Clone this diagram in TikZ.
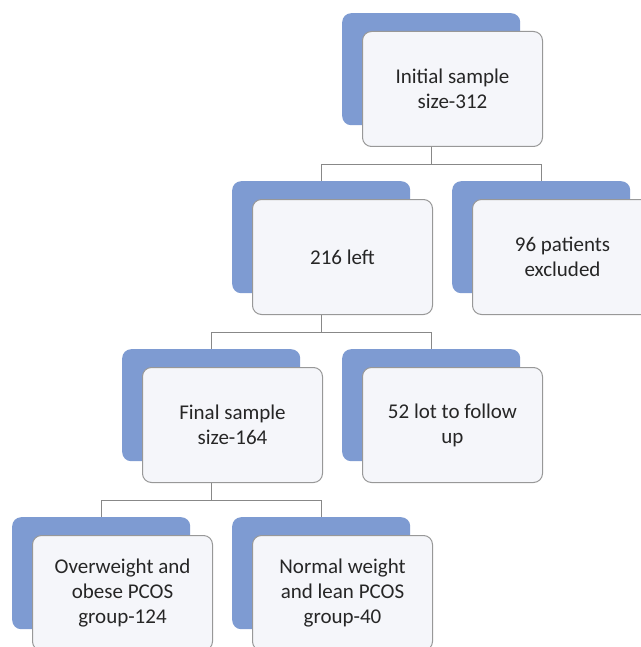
\documentclass[tikz,border=0pt]{standalone}
\usepackage{fontspec}
\setmainfont{Carlito}
\usetikzlibrary{positioning,calc}
\definecolor{sablue}{HTML}{7E9BD2}
\definecolor{cardfill}{HTML}{F5F6FA}
\definecolor{cardline}{HTML}{989898}
\definecolor{linkgray}{HTML}{888888}
\tikzset{
  back/.style={draw=none, fill=sablue, rounded corners=9pt,
    minimum width=178pt, minimum height=112pt, inner sep=0pt, anchor=north west},
  card/.style={draw=cardline, line width=1pt, fill=cardfill, rounded corners=9pt,
    minimum width=180pt, minimum height=115pt, inner sep=0pt, anchor=north west,
    align=center, text=black!85, font=\fontsize{21}{25}\selectfont},
  link/.style={draw=linkgray, line width=1.2pt},
}
\newcommand{\flowbox}[3]{%
  \node[back] (bk#1) at (#2) {};
  \node[card] (#1) at ([shift={(20pt,-18pt)}]bk#1.north west) {#3};
}

\begin{document}
\begin{tikzpicture}[x=1pt,y=-1pt]
  \useasboundingbox (0,0) rectangle (640,647);

  % Boxes
  \flowbox{init}{342,13}{Initial sample\\size-312}
  \flowbox{left}{232,181}{216 left}
  \flowbox{excl}{452,181}{96 patients\\excluded}
  \flowbox{final}{122,349}{Final sample\\size-164}
  \flowbox{lost}{342,349}{52 lot to follow\\up}
  \flowbox{obese}{12,517}{Overweight and\\obese PCOS\\group-124}
  \flowbox{lean}{232,517}{Normal weight\\and lean PCOS\\group-40}

  % Links
  \draw[link] (bkinit |- init.south) -- ++(0,17.5) -| (bkleft.north);
  \draw[link] (bkinit |- init.south) -- ++(0,17.5) -| (bkexcl.north);
  \draw[link] (bkleft |- left.south) -- ++(0,17.5) -| (bkfinal.north);
  \draw[link] (bkleft |- left.south) -- ++(0,17.5) -| (bklost.north);
  \draw[link] (bkfinal |- final.south) -- ++(0,17.5) -| (bkobese.north);
  \draw[link] (bkfinal |- final.south) -- ++(0,17.5) -| (bklean.north);
\end{tikzpicture}
\end{document}
